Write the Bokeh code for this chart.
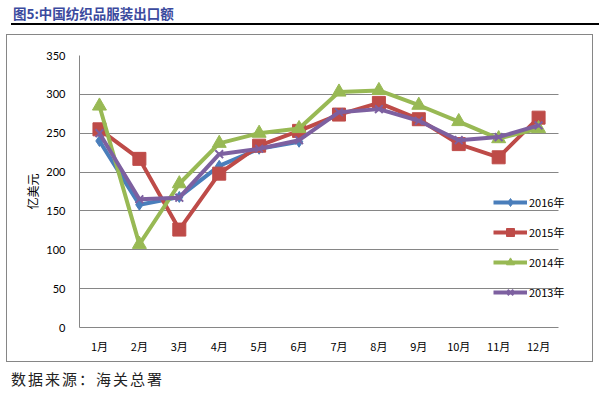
from bokeh.plotting import figure
from bokeh.models import (Range1d, FixedTicker, Legend, LegendItem, Div, Spacer)
from bokeh.layouts import column, row
from bokeh.embed import file_html
from bokeh.resources import INLINE

months = ["1月", "2月", "3月", "4月", "5月", "6月", "7月", "8月", "9月", "10月", "11月", "12月"]
y2016 = [240, 158, 168, 208, 230, 239]
y2015 = [255, 217, 126, 198, 234, 253, 274, 289, 268, 236, 219, 270]
y2014 = [285, 107, 185, 237, 250, 256, 303, 305, 286, 265, 243, 256]
y2013 = [250, 165, 167, 223, 230, 241, 277, 281, 266, 241, 245, 260]
yticks = [0, 50, 100, 150, 200, 250, 300, 350]

CJK = "Noto Sans CJK SC"
n = len(months)
xpos = list(range(1, n + 1))

title = Div(text='<div style="width:589px;height:20px;border-bottom:2px solid #000;font-family:\'Noto Sans CJK SC\';'
                 'font-size:13.5px;font-weight:bold;color:#3B4A9E;line-height:16px;padding-left:2px;box-sizing:border-box;">'
                 '图5:中国纺织品服装出口额</div>',
            width=589, height=24)

W, H = 587, 328
p = figure(width=W, height=H, output_backend="svg", toolbar_location=None,
           x_range=Range1d(0.5, n + 1.0), y_range=Range1d(0, 350),
           min_border_left=72, min_border_right=14, min_border_top=20, min_border_bottom=34)
p.outline_line_color = None
p.xgrid.grid_line_color = None
p.ygrid.grid_line_color = "#868686"
p.ygrid.grid_line_width = 1
p.ygrid.cross_bounds = (0.5, n + 0.5)
p.yaxis.ticker = FixedTicker(ticks=yticks)
p.xaxis.ticker = FixedTicker(ticks=xpos)
p.xaxis.major_label_overrides = {x: m for x, m in zip(xpos, months)}
p.xaxis.bounds = (0.5, n + 0.5)
for ax in (p.xaxis[0], p.yaxis[0]):
    ax.axis_line_color = "#868686"
    ax.major_tick_line_color = None
    ax.minor_tick_line_color = None
    ax.major_tick_out = 0
    ax.major_tick_in = 0
    ax.minor_tick_out = 0
    ax.minor_tick_in = 0
    ax.major_label_text_color = "#000"
    ax.major_label_text_font_size = "11px"
p.yaxis.major_label_text_font = "Lato"
p.xaxis.major_label_text_font = CJK
p.yaxis.major_label_standoff = 14
p.xaxis.major_label_standoff = 10
p.yaxis.axis_label = "亿美元"
p.yaxis.axis_label_text_font = CJK
p.yaxis.axis_label_text_color = "#000"
p.yaxis.axis_label_text_font_size = "12px"
p.yaxis.axis_label_text_font_style = "normal"
p.yaxis.axis_label_standoff = 2

series = [
    ("2016年", y2016, "#4A7EBB", "diamond", 11, 1),
    ("2015年", y2015, "#BE4B48", "square", 13, 1),
    ("2014年", y2014, "#98B954", "triangle", 14, 1),
    ("2013年", y2013, "#7D60A0", "x", 11, 2),
]
items = []
for name, ys, col, mk, sz, lw in series:
    xs = xpos[:len(ys)]
    l = p.line(xs, ys, line_color=col, line_width=4)
    s = p.scatter(xs, ys, marker=mk, size=sz, fill_color=col, line_color=col, line_width=lw)
    items.append(LegendItem(label=name, renderers=[l, s]))

legend = Legend(items=items, location=(414, 25), padding=0, margin=0, spacing=10,
                glyph_width=34, glyph_height=20, label_height=20, label_standoff=2,
                label_text_font=CJK, label_text_font_size="11px", label_text_color="#000",
                background_fill_alpha=0, border_line_alpha=0)
p.add_layout(legend, "center")

box = column(p, width=W, height=H, styles={"border": "1px solid #868686"})

src = Div(text='<div style="font-family:\'Noto Sans CJK SC\';font-size:15px;color:#222;'
               'letter-spacing:2px;padding-top:1px;">数据来源：海关总署</div>',
          width=589, height=22)

layout = row(Spacer(width=6, height=10), column(title, box, src, spacing=0), spacing=0)
open("out.html", "w").write(file_html(layout, INLINE))
